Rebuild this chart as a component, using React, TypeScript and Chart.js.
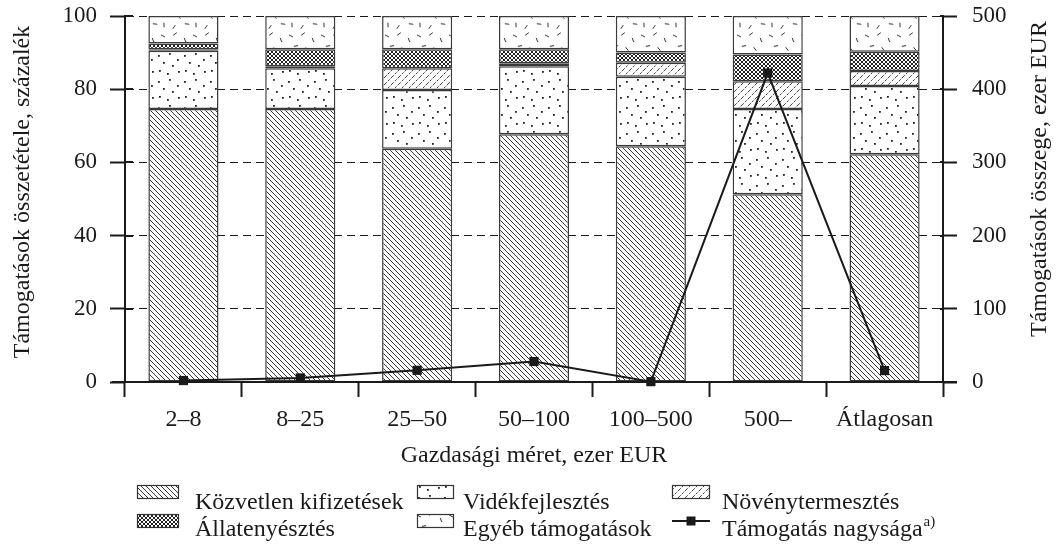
import React, { useEffect, useRef } from 'react';
import { Chart, registerables } from 'chart.js';

Chart.register(...registerables);

const categories = ['2–8', '8–25', '25–50', '50–100', '100–500', '500–', 'Átlagosan'];
const kozvetlen = [74.6, 74.6, 63.7, 67.7, 64.4, 51.3, 62.2];
const videk = [15.9, 11.1, 16.1, 18.6, 19.0, 23.3, 18.7];
const noveny = [0.4, 0.6, 5.9, 0.8, 3.8, 7.6, 4.1];
const allat = [1.6, 4.6, 5.2, 3.8, 2.8, 7.3, 5.2];
const egyeb = [7.5, 9.1, 9.1, 9.1, 10.0, 10.5, 9.8];
const tamogatas = [2, 5.5, 16, 28, 0.5, 422, 15.6];
const leftTicks = [0, 20, 40, 60, 80, 100];
const rightTicks = [0, 100, 200, 300, 400, 500];
const seriesNames = [
  'Közvetlen kifizetések',
  'Vidékfejlesztés',
  'Növénytermesztés',
  'Állatenyésztés',
  'Egyéb támogatások',
  'Támogatás nagysága',
];
const leftTitle = 'Támogatások összetétele, százalék';
const rightTitle = 'Támogatások összege, ezer EUR';
const xTitle = 'Gazdasági méret, ezer EUR';
const footnoteMark = 'a)';

const FONT = '"Liberation Serif", "Times New Roman", serif';
const INK = '#1a1a1a';

function makeTile(w: number, h: number, draw: (g: CanvasRenderingContext2D) => void) {
  const c = document.createElement('canvas');
  c.width = w;
  c.height = h;
  const g = c.getContext('2d')!;
  g.fillStyle = '#ffffff';
  g.fillRect(0, 0, w, h);
  draw(g);
  return c;
}

function buildPatterns(ctx: CanvasRenderingContext2D) {
  const back = makeTile(5, 5, (g) => {
    g.strokeStyle = '#222';
    g.lineWidth = 0.9;
    for (const o of [-5, 0, 5]) {
      g.beginPath();
      g.moveTo(o, 0);
      g.lineTo(o + 5, 5);
      g.stroke();
    }
  });
  const dotPos = [
    [2, 3], [13, 1], [21, 7], [7, 10], [16, 13], [3, 18], [11, 21], [22, 19],
  ];
  const dots = makeTile(26, 26, (g) => {
    g.fillStyle = '#222';
    for (const [x, y] of dotPos) g.fillRect(x, y, 1.8, 1.8);
  });
  const fwd = makeTile(7, 7, (g) => {
    g.strokeStyle = '#444';
    g.lineWidth = 1;
    g.setLineDash([2.5, 1.5]);
    for (const o of [-7, 0, 7]) {
      g.beginPath();
      g.moveTo(o, 7);
      g.lineTo(o + 7, 0);
      g.stroke();
    }
  });
  const cross = makeTile(4, 4, (g) => {
    g.strokeStyle = '#222';
    g.lineWidth = 1;
    for (const o of [-4, 0, 4]) {
      g.beginPath();
      g.moveTo(o, 0);
      g.lineTo(o + 4, 4);
      g.stroke();
      g.beginPath();
      g.moveTo(o, 4);
      g.lineTo(o + 4, 0);
      g.stroke();
    }
  });
  const dashPos = [
    [3, 4, 0.5], [15, 2, -0.6], [25, 8, 1.2], [8, 14, -0.2], [19, 17, 0.9],
    [4, 25, 1.5], [14, 27, -1.0], [27, 24, 0.1],
  ];
  const dashes = makeTile(32, 32, (g) => {
    g.strokeStyle = '#333';
    g.lineWidth = 1;
    for (const [x, y, a] of dashPos) {
      const dx = Math.cos(a) * 2.2;
      const dy = Math.sin(a) * 2.2;
      g.beginPath();
      g.moveTo(x - dx, y - dy);
      g.lineTo(x + dx, y + dy);
      g.stroke();
    }
  });
  const p = (c: HTMLCanvasElement) => ctx.createPattern(c, 'repeat')!;
  return { back: p(back), dots: p(dots), fwd: p(fwd), cross: p(cross), dashes: p(dashes) };
}

const extrasPlugin = {
  id: 'extras',
  afterDraw(chart: any) {
    const { ctx, chartArea } = chart;
    const yScale = chart.scales.y;
    const y1Scale = chart.scales.y1;
    ctx.save();
    ctx.strokeStyle = INK;
    ctx.lineWidth = 2;
    for (const v of leftTicks) {
      const py = Math.round(yScale.getPixelForValue(v));
      ctx.beginPath();
      ctx.moveTo(chartArea.left, py);
      ctx.lineTo(chartArea.left + 8, py);
      ctx.stroke();
    }
    for (const v of rightTicks) {
      const py = Math.round(y1Scale.getPixelForValue(v));
      ctx.beginPath();
      ctx.moveTo(chartArea.right - 3, py);
      ctx.lineTo(chartArea.right, py);
      ctx.stroke();
    }
    const by = chartArea.bottom;
    ctx.beginPath();
    ctx.moveTo(chartArea.left - 13, by);
    ctx.lineTo(chartArea.right + 14, by);
    ctx.stroke();

    ctx.fillStyle = INK;
    ctx.font = `24px ${FONT}`;
    ctx.textAlign = 'center';
    ctx.textBaseline = 'middle';
    ctx.save();
    ctx.translate(23, 192);
    ctx.rotate(-Math.PI / 2);
    ctx.fillText(leftTitle, 0, 0);
    ctx.restore();
    ctx.save();
    ctx.translate(1040, 179);
    ctx.rotate(-Math.PI / 2);
    ctx.fillText(rightTitle, 0, 0);
    ctx.restore();

    const ds = chart.data.datasets;
    const slots = [
      { sx: 137, sy: 485, w: 42, tx: 195, ty: 509 },
      { sx: 417, sy: 485, w: 37, tx: 463, ty: 509 },
      { sx: 672, sy: 485, w: 38, tx: 722, ty: 509 },
      { sx: 137, sy: 514, w: 42, tx: 195, ty: 536 },
      { sx: 417, sy: 514, w: 37, tx: 463, ty: 536 },
      { sx: 672, sy: 514, w: 38, tx: 722, ty: 536 },
    ];
    ctx.textAlign = 'left';
    ctx.textBaseline = 'alphabetic';
    ds.forEach((d: any, k: number) => {
      const s = slots[k];
      if (d.type === 'line') {
        const cy = s.sy + 7;
        ctx.strokeStyle = INK;
        ctx.lineWidth = 2;
        ctx.beginPath();
        ctx.moveTo(s.sx, cy);
        ctx.lineTo(s.sx + s.w, cy);
        ctx.stroke();
        ctx.fillStyle = INK;
        ctx.fillRect(s.sx + s.w / 2 - 4.5, cy - 4.5, 9, 9);
      } else {
        ctx.fillStyle = d.backgroundColor;
        ctx.fillRect(s.sx, s.sy, s.w, 14);
        ctx.strokeStyle = '#333';
        ctx.lineWidth = 1.2;
        ctx.strokeRect(s.sx + 0.5, s.sy + 0.5, s.w - 1, 13);
      }
      ctx.fillStyle = INK;
      ctx.font = `24px ${FONT}`;
      ctx.fillText(d.label, s.tx, s.ty);
      if (d.type === 'line') {
        const w = ctx.measureText(d.label).width;
        ctx.font = `15px ${FONT}`;
        ctx.fillText(footnoteMark, s.tx + w + 1, s.ty - 10);
      }
    });
    ctx.restore();
  },
};

export default function App() {
  const ref = useRef<HTMLCanvasElement | null>(null);

  useEffect(() => {
    const canvas = ref.current!;
    const ctx = canvas.getContext('2d')!;
    const pats = buildPatterns(ctx);
    const barFills = [pats.back, pats.dots, pats.fwd, pats.cross, pats.dashes];
    const barData = [kozvetlen, videk, noveny, allat, egyeb];

    const barDatasets = barData.map((data, i) => ({
      type: 'bar' as const,
      label: seriesNames[i],
      data,
      backgroundColor: barFills[i],
      borderColor: '#3a3a3a',
      borderWidth: 1.5,
      borderSkipped: false,
      yAxisID: 'y',
      stack: 's',
      order: 1,
      barPercentage: 0.6,
      categoryPercentage: 1,
    }));

    const chart = new Chart(ctx, {
      type: 'bar',
      data: {
        labels: categories,
        datasets: [
          ...barDatasets,
          {
            type: 'line' as const,
            label: seriesNames[5],
            data: tamogatas,
            yAxisID: 'y1',
            order: 0,
            borderColor: INK,
            backgroundColor: INK,
            borderWidth: 2,
            pointStyle: 'rect',
            pointRadius: 6.5,
            pointBackgroundColor: INK,
            pointBorderWidth: 0,
            tension: 0,
            clip: false,
          } as any,
        ],
      },
      options: {
        responsive: false,
        animation: false,
        events: [],
        layout: { padding: { top: 16, bottom: 72, left: 0, right: 0 } },
        plugins: { legend: { display: false }, tooltip: { enabled: false } },
        scales: {
          x: {
            stacked: true,
            offset: true,
            grid: {
              drawOnChartArea: false,
              offset: true,
              tickLength: 15,
              tickWidth: 2,
              tickColor: INK,
              color: INK,
            },
            border: { color: INK, width: 2 },
            ticks: { font: { family: FONT, size: 24 }, color: INK, padding: 8, maxRotation: 0 },
            title: {
              display: true,
              text: xTitle,
              font: { family: FONT, size: 24 },
              color: INK,
              padding: { top: 0, bottom: 2 },
            },
            afterFit: (s: any) => {
              s.height = 90;
              s.paddingLeft = 0;
              s.paddingRight = 0;
            },
          },
          y: {
            stacked: true,
            position: 'left',
            min: 0,
            max: 100,
            afterBuildTicks: (s: any) => {
              s.ticks = leftTicks.map((v) => ({ value: v }));
            },
            ticks: { font: { family: FONT, size: 23 }, color: INK, padding: 13 },
            grid: { color: INK, lineWidth: 1, tickLength: 15, tickWidth: 2, tickColor: INK },
            border: { dash: [8, 5], color: INK, width: 2 },
            afterFit: (s: any) => {
              s.width = 125;
              s.paddingTop = 0;
              s.paddingBottom = 0;
            },
          },
          y1: {
            position: 'right',
            min: 0,
            max: 500,
            afterBuildTicks: (s: any) => {
              s.ticks = rightTicks.map((v) => ({ value: v }));
            },
            ticks: { font: { family: FONT, size: 23 }, color: INK, padding: 15 },
            grid: { drawOnChartArea: false, tickLength: 14, tickWidth: 2, tickColor: INK, color: INK },
            border: { color: INK, width: 2 },
            afterFit: (s: any) => {
              s.width = 114;
              s.paddingTop = 0;
              s.paddingBottom = 0;
            },
          },
        },
      } as any,
      plugins: [extrasPlugin],
    });
    return () => chart.destroy();
  }, []);

  return (
    <div style={{ position: 'fixed', left: 0, top: 0, width: 1057, height: 544, background: '#fff' }}>
      <canvas ref={ref} width={1057} height={544} style={{ display: 'block' }} />
    </div>
  );
}
